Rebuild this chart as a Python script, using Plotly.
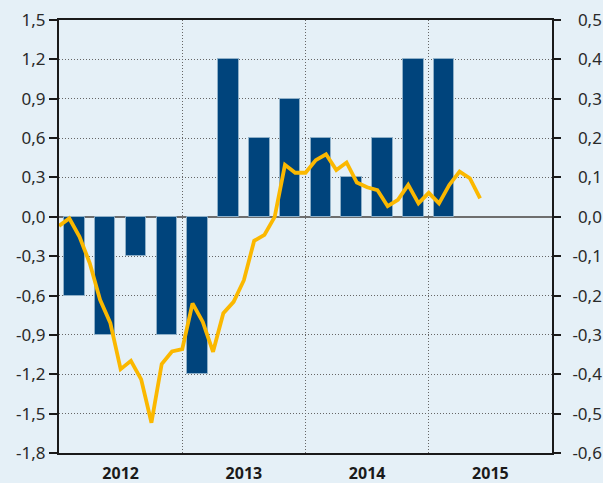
import plotly.graph_objects as go

# Quarterly bars (left axis)
bar_quarters = ["2012Q1", "2012Q2", "2012Q3", "2012Q4", "2013Q1", "2013Q2", "2013Q3",
                "2013Q4", "2014Q1", "2014Q2", "2014Q3", "2014Q4", "2015Q1"]
bar_values = [-0.6, -0.9, -0.3, -0.9, -1.2, 1.2, 0.6, 0.9, 0.6, 0.3, 0.6, 1.2, 1.2]

# Monthly line (right axis), Jan 2012 - Jun 2015
line_values = [-0.023, -0.004, -0.051, -0.118, -0.211, -0.270, -0.387, -0.366, -0.413, -0.523,
               -0.374, -0.342, -0.336, -0.220, -0.267, -0.343, -0.245, -0.216, -0.161, -0.061,
               -0.046, 0.000, 0.132, 0.112, 0.112, 0.144, 0.159, 0.119, 0.138, 0.087,
               0.075, 0.068, 0.027, 0.043, 0.081, 0.034, 0.061, 0.034, 0.081, 0.115,
               0.098, 0.047]

years = ["2012", "2013", "2014", "2015"]
left_ticks = [-1.8, -1.5, -1.2, -0.9, -0.6, -0.3, 0.0, 0.3, 0.6, 0.9, 1.2, 1.5]
right_ticks = [-0.6, -0.5, -0.4, -0.3, -0.2, -0.1, 0.0, 0.1, 0.2, 0.3, 0.4, 0.5]

BG = "#e5f0f7"
BAR = "#00447c"
LINE = "#fbb800"
FONT = "Noto Sans"
GRID_DASH = "1px,2px"


def fmt(v):
    return f"{v:.1f}".replace(".", ",")


def fmt_right(v):
    s = fmt(v)
    if not s.startswith("-"):
        s = '<span style="color:rgba(0,0,0,0)">-</span>' + s
    return s


bar_x = [(int(q[:4]) - 2012) * 12 + (int(q[-1]) - 1) * 3 + 1.5 for q in bar_quarters]
line_x = list(range(len(line_values)))
year_x = [i * 12 + 6 for i in range(len(years))]

fig = go.Figure()
fig.add_trace(go.Bar(
    x=bar_x, y=bar_values, width=2.0,
    marker=dict(color=BAR, line=dict(color="#8fb0c8", width=1)),
    yaxis="y", showlegend=False,
))
fig.add_trace(go.Scatter(
    x=line_x, y=line_values, mode="lines",
    line=dict(color=LINE, width=3.8),
    yaxis="y2", showlegend=False,
))

fig.update_layout(
    width=603, height=483,
    margin=dict(l=59, r=51, t=20, b=30, autoexpand=False),
    paper_bgcolor=BG, plot_bgcolor=BG,
    font=dict(family=FONT, size=17, color="#2a2a2a"),
    bargap=0,
    xaxis=dict(
        automargin=False,
        range=[0, 48], tickvals=year_x, ticktext=[f"<b>{y}</b>" for y in years],
        ticks="outside", ticklen=5, tickcolor="rgba(0,0,0,0)",
        showline=True, linecolor="#1a1a1a", linewidth=2, mirror=True,
        showgrid=False, zeroline=False,
        minor=dict(tick0=0, dtick=12, showgrid=True, gridcolor="#666",
                   griddash=GRID_DASH, gridwidth=1, ticks=""),
        tickfont=dict(size=16, color="#1a1a1a"),
    ),
    yaxis=dict(
        automargin=False,
        range=[-1.8, 1.5], tickvals=left_ticks, ticktext=[fmt(v) for v in left_ticks],
        ticks="outside", ticklen=8, tickwidth=2, tickcolor="#1a1a1a",
        showline=True, linecolor="#1a1a1a", linewidth=2,
        showgrid=True, gridcolor="#666", griddash=GRID_DASH, gridwidth=1,
        zeroline=True, zerolinecolor="#6e6e6e", zerolinewidth=2,
    ),
    yaxis2=dict(
        automargin=False,
        range=[-0.6, 0.5], tickvals=right_ticks, ticktext=[fmt_right(v) for v in right_ticks],
        overlaying="y", side="right",
        ticks="outside", ticklen=7, tickwidth=2, tickcolor="#1a1a1a",
        showline=True, linecolor="#1a1a1a", linewidth=2,
        showgrid=False, zeroline=False, ticklabelstandoff=8,
    ),
)

fig.write_html(
    "out.html",
    config={"displayModeBar": False},
    post_script="document.body.style.margin='0';document.body.style.background='%s';" % BG,
)
